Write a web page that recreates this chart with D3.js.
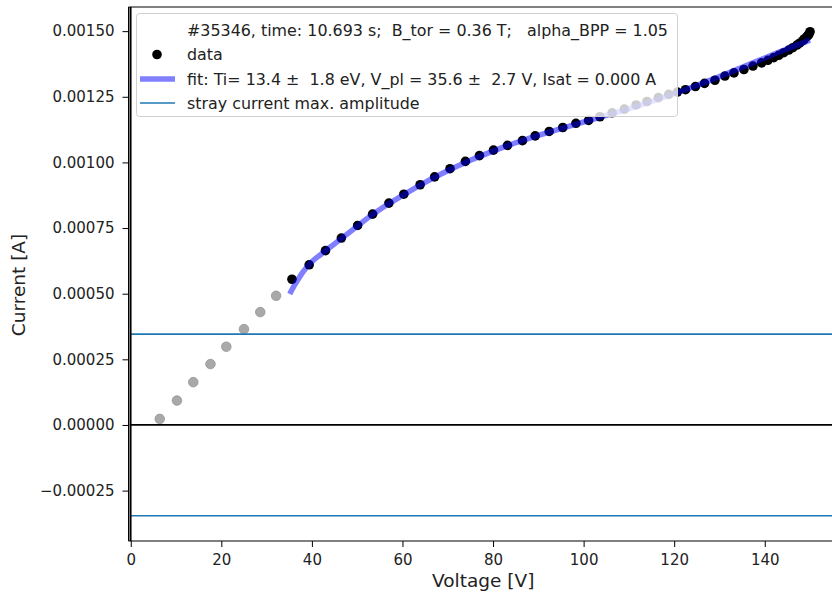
<!DOCTYPE html>
<html>
<head>
<meta charset="utf-8">
<script src="https://cdn.jsdelivr.net/npm/d3@7"></script>
<style>
  body { margin: 0; background: white; }
  text { font-family: "DejaVu Sans", sans-serif; }
</style>
</head>
<body>
<div id="chart"></div>
<script>
// points left out of the fit (grey)
let voltExcl = [6.4, 10.2, 13.8, 17.6, 21.1, 25.0, 28.6, 32.1];
let currExcl = [0.000023, 0.000093, 0.000163, 0.000232, 0.000298, 0.000365, 0.000430, 0.000492];

// points used in the fit (black)
let voltData = [35.6, 39.4, 43.0, 46.5, 50.1, 53.4, 57.0, 60.3, 63.9, 67.1,
                70.5, 73.9, 77.0, 80.1, 83.2, 86.5, 89.3, 92.4, 95.4, 98.3,
                101.1, 103.6, 106.3, 109.0, 111.6, 114.0, 116.5, 118.8, 120.7, 122.5,
                124.7, 126.7, 129.0, 131.2, 133.2, 135.4, 137.4, 139.3, 140.7, 142.0,
                143.1, 144.2, 145.3, 146.2, 147.1, 147.7, 148.4, 148.8, 149.3, 149.6,
                149.8, 150.0];
let currData = [0.000555, 0.000610, 0.000664, 0.000712, 0.000760, 0.000803, 0.000845, 0.000879, 0.000915, 0.000945,
                0.000976, 0.001004, 0.001026, 0.001047, 0.001065, 0.001083, 0.001101, 0.001118, 0.001133, 0.001149,
                0.001160, 0.001174, 0.001189, 0.001203, 0.001219, 0.001232, 0.001247, 0.001259, 0.001268, 0.001277,
                0.001289, 0.001301, 0.001313, 0.001329, 0.001341, 0.001354, 0.001367, 0.001379, 0.001389, 0.001399,
                0.001408, 0.001418, 0.001428, 0.001437, 0.001447, 0.001454, 0.001464, 0.001471, 0.001479, 0.001485,
                0.001490, 0.001498];

// fitted curve
let fitVolt = [35.1, 36, 37, 38, 40, 42, 45, 48, 50, 52, 56, 60, 65, 70, 75,
               80, 85, 90, 95, 100, 105, 110, 115, 120, 125, 130, 135, 140, 145, 150];
let fitCurr = [0.000499, 0.000528, 0.000556, 0.000582, 0.000622, 0.000650, 0.000690, 0.000730, 0.000757, 0.000784,
               0.000832, 0.000874, 0.000924, 0.000968, 0.001008, 0.001043, 0.001075, 0.001103, 0.001129, 0.001154,
               0.001179, 0.001204, 0.001232, 0.001262, 0.001293, 0.001327, 0.001362, 0.001398, 0.001433, 0.001466];

let strayAmp = 0.000346;

let xTicks = [0, 20, 40, 60, 80, 100, 120, 140];
let yTicks = [-0.00025, 0, 0.00025, 0.0005, 0.00075, 0.001, 0.00125, 0.0015];

let legendLabels = ["#35346, time: 10.693 s;  B_tor = 0.36 T;   alpha_BPP = 1.05",
                    "data",
                    "fit: Ti= 13.4 \u00b1  1.8 eV, V_pl = 35.6 \u00b1  2.7 V, Isat = 0.000 A",
                    "stray current max. amplitude"];

let larg = 832;
let alt = 597;
let pLeft = 128.5, pRight = 844, pTop = 7, pBottom = 541;

let canvas = d3.select("#chart")
                .append("svg")
                .attr("width", larg)
                .attr("height", alt);

let x = d3.scaleLinear()
            .domain([-0.5, 157.5])
            .range([pLeft, pRight]);
let y = d3.scaleLinear()
            .domain([-0.000442, 0.001592])
            .range([pBottom, pTop]);

canvas.append("clipPath")
        .attr("id", "plot")
        .append("rect")
        .attr("x", pLeft).attr("y", pTop)
        .attr("width", pRight - pLeft).attr("height", pBottom - pTop);

let plot = canvas.append("g").attr("clip-path", "url(#plot)");

// grey excluded points
plot.selectAll(".excl")
    .data(voltExcl)
    .enter()
        .append("circle")
        .attr("class", "excl")
        .attr("cx", d => x(d))
        .attr("cy", (d, i) => y(currExcl[i]))
        .attr("r", 4.8)
        .attr("fill", "#a9a9a9")
        .attr("stroke", "#969696")
        .attr("stroke-width", 0.8);

plot.selectAll(".pt")
    .data(voltData)
    .enter()
        .append("circle")
        .attr("class", "pt")
        .attr("cx", d => x(d))
        .attr("cy", (d, i) => y(currData[i]))
        .attr("r", 4.8)
        .attr("fill", "black");

let line = d3.line()
            .x(d => x(d))
            .y((d, i) => y(fitCurr[i]))
            .curve(d3.curveMonotoneX);

plot.append("path")
    .attr("d", line(fitVolt))
    .attr("fill", "none")
    .attr("stroke", "blue")
    .attr("stroke-opacity", 0.5)
    .attr("stroke-width", 5.5);

// stray current lines
plot.selectAll(".stray")
    .data([strayAmp, -strayAmp])
    .enter()
        .append("line")
        .attr("x1", pLeft).attr("x2", pRight)
        .attr("y1", d => y(d)).attr("y2", d => y(d))
        .attr("stroke", "#1f77b4")
        .attr("stroke-width", 1.6);

// zero lines
plot.append("line")
    .attr("x1", pLeft).attr("x2", pRight)
    .attr("y1", y(0)).attr("y2", y(0))
    .attr("stroke", "black").attr("stroke-width", 1.7);
plot.append("line")
    .attr("x1", pLeft + 1.2).attr("x2", pLeft + 1.2)
    .attr("y1", pTop).attr("y2", pBottom)
    .attr("stroke", "#777").attr("stroke-width", 1.2);
plot.append("line")
    .attr("x1", x(0)).attr("x2", x(0))
    .attr("y1", pTop).attr("y2", pBottom)
    .attr("stroke", "black").attr("stroke-width", 1.6);

// axes
let xAxis = d3.axisBottom(x).tickValues(xTicks).tickSize(6).tickPadding(7);
let yAxis = d3.axisLeft(y).tickValues(yTicks).tickFormat(d3.format(".5f")).tickSize(6).tickPadding(8);

let gx = canvas.append("g")
        .attr("transform", "translate(0," + pBottom + ")")
        .style("font", "15px 'DejaVu Sans'")
        .call(xAxis);
let gy = canvas.append("g")
        .attr("transform", "translate(" + pLeft + ",0)")
        .style("font", "15px 'DejaVu Sans'")
        .call(yAxis);
gx.select(".domain").remove();
gy.select(".domain").remove();
gx.selectAll("text").attr("fill", "#222");
gy.selectAll("text").attr("fill", "#222");

// spines
canvas.append("line")
    .attr("x1", pLeft).attr("x2", pLeft).attr("y1", pTop).attr("y2", pBottom)
    .attr("stroke", "black").attr("stroke-width", 1);
canvas.append("line")
    .attr("x1", pLeft).attr("x2", larg).attr("y1", pBottom).attr("y2", pBottom)
    .attr("stroke", "black").attr("stroke-width", 1);
canvas.append("line")
    .attr("x1", pLeft).attr("x2", larg).attr("y1", pTop).attr("y2", pTop)
    .attr("stroke", "black").attr("stroke-width", 1);

canvas.append("text")
    .attr("x", (pLeft + 810) / 2 + 14)
    .attr("y", 587)
    .attr("text-anchor", "middle")
    .style("font-size", "18.5px")
    .attr("fill", "#222")
    .text("Voltage [V]");
canvas.append("text")
    .attr("transform", "translate(25,285) rotate(-90)")
    .attr("text-anchor", "middle")
    .style("font-size", "18.5px")
    .attr("fill", "#222")
    .text("Current [A]");

// legend
let leg = canvas.append("g");
leg.append("rect")
    .attr("x", 136.5).attr("y", 13.5)
    .attr("width", 541).attr("height", 103)
    .attr("rx", 3)
    .attr("fill", "white").attr("fill-opacity", 0.8)
    .attr("stroke", "#d0d0d0");

let rowY = [30.5, 54.5, 79, 103];
leg.selectAll(".lab")
    .data(legendLabels)
    .enter()
        .append("text")
        .attr("x", 187)
        .attr("y", (d, i) => rowY[i])
        .attr("dy", "0.35em")
        .style("font-size", "15.9px")
        .style("white-space", "pre")
        .attr("fill", "#222")
        .text(d => d);

leg.append("circle")
    .attr("cx", 157).attr("cy", rowY[1]).attr("r", 4.8).attr("fill", "black");
leg.append("line")
    .attr("x1", 140).attr("x2", 175).attr("y1", rowY[2]).attr("y2", rowY[2])
    .attr("stroke", "blue").attr("stroke-opacity", 0.5).attr("stroke-width", 5.5);
leg.append("line")
    .attr("x1", 140).attr("x2", 175).attr("y1", rowY[3]).attr("y2", rowY[3])
    .attr("stroke", "#1f77b4").attr("stroke-width", 1.6);
</script>
</body>
</html>
